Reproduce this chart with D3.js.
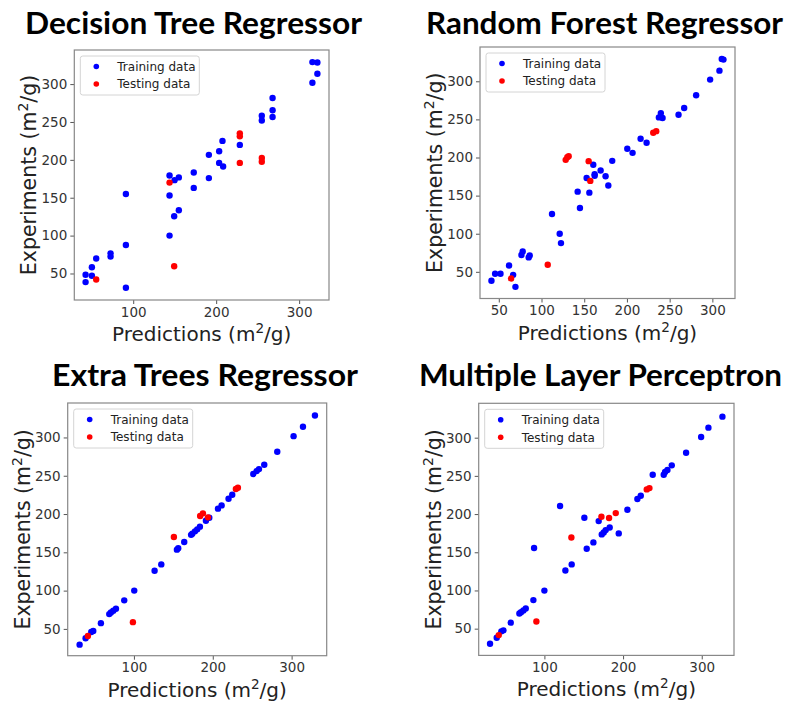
<!DOCTYPE html>
<html>
<head>
<meta charset="utf-8">
<script src="https://cdn.jsdelivr.net/npm/d3@7"></script>
<style>
  html, body { margin: 0; padding: 0; background: #fff; }
  svg { display: block; }
</style>
</head>
<body>
<svg id="chart" width="790" height="705"></svg>
<script>
// ---- Data: predicted vs. measured surface area (m²/g) ----
const titles = ["Decision Tree Regressor", "Random Forest Regressor", "Extra Trees Regressor", "Multiple Layer Perceptron"];
const legendLabels = ["Training data", "Testing data"];
const yTicks = [50, 100, 150, 200, 250, 300];
const xTicksWide = [100, 200, 300];
const xTicksFine = [50, 100, 150, 200, 250, 300];

// Decision Tree
const dtTrainPred = [316, 322, 322, 316, 268, 268, 268, 255, 255, 228.5, 207.6, 203.6, 203.6, 208.4, 191.2, 191.2, 173, 173, 155, 149.8, 143.8, 143.8, 91.2, 149.4, 155, 143.8, 91.2, 72.7, 72.7, 55.4, 50.2, 50.2, 42.6, 42.6, 91.2];
const dtTrainExp  = [329, 328.5, 313.6, 301.8, 281.6, 265.4, 256.6, 258.3, 252, 219.7, 225, 211.4, 196, 191.2, 206.6, 175.9, 183.3, 163, 176.8, 173.2, 179.4, 153, 155, 125.5, 133.4, 100, 87.6, 76.6, 72.3, 69.7, 58.3, 47, 48.3, 38.6, 31.2];
const dtTestPred  = [228.5, 228.5, 228.5, 255, 255, 143.8, 55.4, 149.4];
const dtTestExp   = [235, 231, 196, 202.6, 197.4, 170, 42, 59.6];

// Random Forest
const rfTrainPred = [311, 313, 308.3, 297.4, 281, 267, 260.4, 239.7, 237.4, 241.7, 216, 223, 200.4, 206.6, 182.8, 160.6, 162.2, 162.2, 169.2, 175, 178.2, 152.8, 142.3, 156, 112.3, 145, 121.3, 122.8, 78, 76.5, 85, 86.2, 62, 45.7, 52, 66.8, 41.4, 69.5];
const rfTrainExp  = [329.4, 328.5, 314, 302.2, 281.6, 264.9, 256.1, 258.3, 252.6, 251.8, 224.6, 219.3, 211.4, 206.1, 195.6, 190.4, 178.1, 176, 183, 175.4, 163.2, 173.2, 155.2, 153.9, 125.9, 133.8, 100, 87.7, 76.8, 72, 68.9, 71.5, 58.3, 47.4, 47.4, 46, 38.2, 30.3];
const rfTestPred  = [128.3, 130.2, 131.8, 155.2, 157.1, 230.8, 234.3, 64.4, 107.3];
const rfTestExp   = [196.9, 200.4, 201.8, 195.2, 169.3, 232.5, 234.6, 41.2, 59.2];

// Extra Trees
const etTrainPred = [329.6, 314.4, 302.5, 281.8, 265.3, 258.6, 255.6, 251.4, 224.7, 220, 211.2, 206.6, 195.6, 191.3, 183.7, 180.3, 177.4, 174, 172.5, 163.8, 156.2, 154.5, 126.2, 134.7, 100.4, 87.7, 77.2, 73.8, 70.8, 68.7, 58.1, 48.4, 45.9, 38.7, 31.1];
const etTrainExp  = [328.7, 313.9, 301.7, 281.3, 264.3, 258.7, 256.1, 252.2, 225.2, 220, 211.3, 207, 195.2, 191.3, 183.5, 180, 177.4, 174.3, 172.8, 163.5, 155.3, 153.5, 125.9, 134.2, 100, 87.3, 76.3, 73.7, 71.5, 69.3, 57.5, 47.4, 46, 37.7, 29.4];
const etTestPred  = [150.7, 184, 187.5, 193.9, 229.3, 231.9, 41.6, 98.7];
const etTestExp   = [170, 197.4, 200.9, 195.7, 232.6, 234.3, 40.8, 58.8];

// Multiple Layer Perceptron
const mlpTrainPred = [326.3, 308.5, 299.2, 280.1, 261.9, 256.4, 253.4, 251.7, 237.7, 222.5, 218.2, 205.5, 119.9, 150.8, 169, 183, 177.9, 175.4, 172.9, 194.5, 162.3, 153.8, 86.9, 126.7, 134.7, 100, 86, 76.3, 73.3, 70.3, 68.2, 57.2, 47.9, 45.3, 39.4, 30.9];
const mlpTrainExp  = [327.5, 313.1, 300.9, 280.3, 263.8, 257.6, 255, 251.5, 251.5, 224, 219.7, 205.7, 210.5, 195.2, 190.8, 182.5, 179, 176, 173.4, 174.7, 162.9, 154.6, 155.5, 126.2, 134.1, 99.8, 87.4, 76.4, 73.8, 71.6, 69.8, 57.9, 47.8, 46.5, 38.1, 30.2];
const mlpTestPred  = [134.3, 172.5, 182.2, 190.7, 230.1, 233.5, 42, 89.8];
const mlpTestExp   = [169.4, 196.5, 194.8, 201.3, 232.3, 234, 41.6, 59.3];

// ---- Layout ----
const TRAIN = "#0000ff", TEST = "#ff0000";
const LABEL_FONT = "'DejaVu Sans', sans-serif";
const TITLE_FONT = "Lato, 'Open Sans', sans-serif";

const panels = [
  { title: titles[0], train: [dtTrainPred, dtTrainExp], test: [dtTestPred, dtTestExp],
    frame: { x0: 74.3, x1: 329, y0: 50, y1: 300 }, xDomain: [29, 336], xTicks: xTicksWide,
    titleBox: { x0: 25, x1: 362, base: 34 } },
  { title: titles[1], train: [rfTrainPred, rfTrainExp], test: [rfTestPred, rfTestExp],
    frame: { x0: 480, x1: 735, y0: 47, y1: 298.5 }, xDomain: [28, 326.5], xTicks: xTicksFine,
    titleBox: { x0: 426, x1: 783, base: 34 } },
  { title: titles[2], train: [etTrainPred, etTrainExp], test: [etTestPred, etTestExp],
    frame: { x0: 67.7, x1: 326.7, y0: 403, y1: 655.7 }, xDomain: [16, 344.5], xTicks: xTicksWide,
    titleBox: { x0: 52, x1: 358, base: 386 } },
  { title: titles[3], train: [mlpTrainPred, mlpTrainExp], test: [mlpTestPred, mlpTestExp],
    frame: { x0: 478.7, x1: 734, y0: 403.3, y1: 655.4 }, xDomain: [16.5, 341], xTicks: xTicksWide,
    titleBox: { x0: 419, x1: 782, base: 386 } }
];

const svg = d3.select("#chart");

function unitLabel(sel, word) {
  sel.append("tspan").text(word + " (m");
  sel.append("tspan").attr("dy", -8).attr("font-size", "0.68em").text("2");
  sel.append("tspan").attr("dy", 8).text("/g)");
}

panels.forEach(p => {
  const f = p.frame;
  const x = d3.scaleLinear().domain(p.xDomain).range([f.x0, f.x1]);
  const y = d3.scaleLinear().domain([15, 345]).range([f.y1, f.y0]);
  const g = svg.append("g");

  // Title
  g.append("text")
    .attr("x", p.titleBox.x0).attr("y", p.titleBox.base)
    .attr("textLength", p.titleBox.x1 - p.titleBox.x0)
    .attr("lengthAdjust", "spacingAndGlyphs")
    .attr("font-family", TITLE_FONT).attr("font-weight", 700)
    .attr("font-size", 30).attr("fill", "#000")
    .text(p.title);

  // Axes
  const xAxis = d3.axisBottom(x).tickValues(p.xTicks).tickSize(4).tickPadding(3).tickFormat(d3.format("d"));
  const yAxis = d3.axisLeft(y).tickValues(yTicks).tickSize(4).tickPadding(3).tickFormat(d3.format("d"));
  const gx = g.append("g").attr("transform", `translate(0,${f.y1})`).call(xAxis);
  const gy = g.append("g").attr("transform", `translate(${f.x0},0)`).call(yAxis);
  [gx, gy].forEach(a => {
    a.select(".domain").remove();
    a.selectAll(".tick line").attr("stroke", "#555").attr("stroke-width", 1);
    a.selectAll(".tick text").attr("font-family", LABEL_FONT).attr("font-size", 13.5).attr("fill", "#333");
  });

  // Frame
  g.append("rect")
    .attr("x", f.x0).attr("y", f.y0)
    .attr("width", f.x1 - f.x0).attr("height", f.y1 - f.y0)
    .attr("fill", "none").attr("stroke", "#888").attr("stroke-width", 1.2);

  // Axis labels
  g.append("text")
    .attr("x", (f.x0 + f.x1) / 2).attr("y", f.y1 + 41)
    .attr("text-anchor", "middle")
    .attr("font-family", LABEL_FONT).attr("font-size", 20).attr("fill", "#222")
    .call(unitLabel, "Predictions");
  g.append("text")
    .attr("transform", `translate(${f.x0 - 38},${(f.y0 + f.y1) / 2}) rotate(-90)`)
    .attr("text-anchor", "middle")
    .attr("font-family", LABEL_FONT).attr("font-size", 20.5).attr("fill", "#222")
    .call(unitLabel, "Experiments");

  // Points: training first, testing on top
  const trainPts = d3.zip(p.train[0], p.train[1]);
  const testPts = d3.zip(p.test[0], p.test[1]);
  g.append("g").selectAll("circle").data(trainPts).join("circle")
    .attr("cx", d => x(d[0])).attr("cy", d => y(d[1])).attr("r", 3.2).attr("fill", TRAIN);
  g.append("g").selectAll("circle").data(testPts).join("circle")
    .attr("cx", d => x(d[0])).attr("cy", d => y(d[1])).attr("r", 3.2).attr("fill", TEST);

  // Legend
  const lg = g.append("g").attr("transform", `translate(${f.x0 + 6},${f.y0 + 6})`);
  lg.append("rect").attr("width", 119).attr("height", 39).attr("rx", 2.5)
    .attr("fill", "#fff").attr("stroke", "#d4d4d4").attr("stroke-width", 1);
  [[legendLabels[0], TRAIN], [legendLabels[1], TEST]].forEach(([lab, col], i) => {
    const cy = 10.5 + i * 17.5;
    lg.append("circle").attr("cx", 16).attr("cy", cy).attr("r", 2.8).attr("fill", col);
    lg.append("text").attr("x", 37).attr("y", cy + 4.3)
      .attr("font-family", LABEL_FONT).attr("font-size", 12).attr("fill", "#222")
      .text(lab);
  });
});
</script>
</body>
</html>
